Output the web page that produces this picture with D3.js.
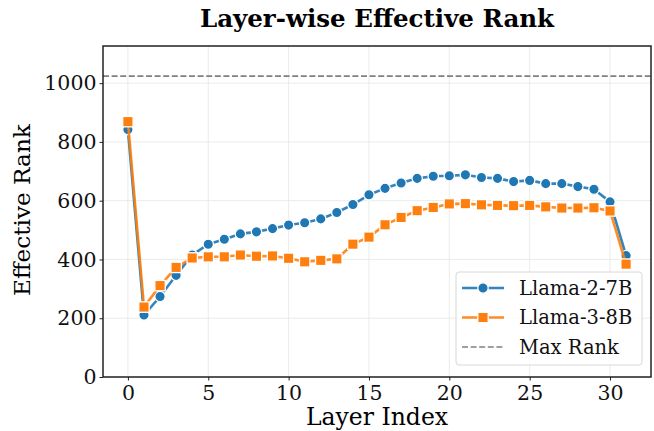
<!DOCTYPE html>
<html>
<head>
<meta charset="utf-8">
<script src="https://cdn.jsdelivr.net/npm/d3@7"></script>
<style>
  body { margin: 0; background: #fff; }
  svg { font-family: "DejaVu Serif", serif; }
</style>
</head>
<body>
<div id="chart"></div>
<script>
var layers = d3.range(32);
var llama2 = [842, 211, 274, 346, 415, 452, 469, 487, 494, 505, 517, 525, 538, 560, 587, 620,
              642, 660, 676, 683, 685, 688, 679, 676, 665, 669, 658, 658, 648, 639, 596, 413];
var llama3 = [869, 238, 311, 373, 405, 409, 409, 415, 411, 412, 404, 392, 397, 402, 452, 476,
              518, 543, 566, 577, 589, 590, 586, 584, 583, 584, 579, 575, 575, 576, 565, 384];
var maxRank = 1024;
var xTicks = [0, 5, 10, 15, 20, 25, 30];
var yTicks = [0, 200, 400, 600, 800, 1000];
var seriesNames = ["Llama-2-7B", "Llama-3-8B"];

var w = 654, h = 431;
var margin = {left: 103, right: 3, top: 46, bottom: 54};

var svg = d3.select("#chart").append("svg")
  .attr("width", w).attr("height", h);

var x = d3.scaleLinear().domain([-1.55, 32.55]).range([margin.left, w - margin.right]);
var y = d3.scaleLinear().domain([0, 1126.4]).range([h - margin.bottom, margin.top]);

// grid
svg.append("g").selectAll("line").data(xTicks).enter().append("line")
  .attr("x1", d => x(d)).attr("x2", d => x(d))
  .attr("y1", y.range()[0]).attr("y2", y.range()[1])
  .style("stroke", "#e6e6e6").style("stroke-width", 0.8);
svg.append("g").selectAll("line").data(yTicks).enter().append("line")
  .attr("y1", d => y(d)).attr("y2", d => y(d))
  .attr("x1", x.range()[0]).attr("x2", x.range()[1])
  .style("stroke", "#e6e6e6").style("stroke-width", 0.8);

// max rank line
svg.append("line")
  .attr("x1", x.range()[0]).attr("x2", x.range()[1])
  .attr("y1", y(maxRank)).attr("y2", y(maxRank))
  .style("stroke", "#808080").style("stroke-width", 1.6)
  .style("stroke-dasharray", "6,2.6");

var line = d3.line().x((d, i) => x(layers[i])).y(d => y(d));

function drawSeries(vals, color, shape) {
  svg.append("path").datum(vals)
    .attr("d", line)
    .style("fill", "none").style("stroke", color)
    .style("stroke-width", 2.6).style("opacity", 0.9);
  var g = svg.append("g");
  if (shape == "circle") {
    g.selectAll("circle").data(vals).enter().append("circle")
      .attr("cx", (d, i) => x(layers[i])).attr("cy", d => y(d)).attr("r", 5.2)
      .style("fill", color).style("stroke", "#fff").style("stroke-width", 1.3);
  } else {
    g.selectAll("rect").data(vals).enter().append("rect")
      .attr("x", (d, i) => x(layers[i]) - 5.2).attr("y", d => y(d) - 5.2)
      .attr("width", 10.4).attr("height", 10.4)
      .style("fill", color).style("stroke", "#fff").style("stroke-width", 1.3);
  }
}
drawSeries(llama2, "#1f77b4", "circle");
drawSeries(llama3, "#ff7f0e", "square");

// frame
svg.append("rect")
  .attr("x", x.range()[0]).attr("y", y.range()[1])
  .attr("width", x.range()[1] - x.range()[0]).attr("height", y.range()[0] - y.range()[1])
  .style("fill", "none").style("stroke", "#222").style("stroke-width", 1.5);

// axes
var xAxis = svg.append("g").attr("transform", "translate(0," + y.range()[0] + ")")
  .call(d3.axisBottom(x).tickValues(xTicks).tickSize(3.5).tickPadding(5));
var yAxis = svg.append("g").attr("transform", "translate(" + x.range()[0] + ",0)")
  .call(d3.axisLeft(y).tickValues(yTicks).tickFormat(d3.format("d")).tickSize(3.5).tickPadding(3));
[xAxis, yAxis].forEach(function(a) {
  a.select(".domain").remove();
  a.selectAll("text").style("font-family", "DejaVu Serif, serif").style("font-size", "20.5px").style("fill", "#111");
  a.selectAll("line").style("stroke", "#222");
});

// labels
svg.append("text").attr("x", (x.range()[0] + x.range()[1]) / 2).attr("y", 27)
  .attr("text-anchor", "middle").style("font-size", "24.5px").style("font-weight", "bold")
  .text("Layer-wise Effective Rank");
svg.append("text").attr("x", (x.range()[0] + x.range()[1]) / 2).attr("y", 425)
  .attr("text-anchor", "middle").style("font-size", "23.5px").text("Layer Index");
svg.append("text").attr("transform", "translate(30,210) rotate(-90)")
  .attr("text-anchor", "middle").style("font-size", "23.2px").text("Effective Rank");

// legend
var lg = svg.append("g");
lg.append("rect").attr("x", 456).attr("y", 272).attr("width", 186).attr("height", 93)
  .attr("rx", 3).style("fill", "#fff").style("fill-opacity", 0.8)
  .style("stroke", "#d8d8d8").style("stroke-width", 1);
var items = [
  {name: seriesNames[0], color: "#1f77b4", shape: "circle"},
  {name: seriesNames[1], color: "#ff7f0e", shape: "square"},
  {name: "Max Rank", color: "#808080", shape: "dash"}
];
items.forEach(function(d, i) {
  var cy = 288 + i * 29.5;
  if (d.shape == "dash") {
    lg.append("line").attr("x1", 462).attr("x2", 504).attr("y1", cy).attr("y2", cy)
      .style("stroke", d.color).style("stroke-width", 1.6).style("stroke-dasharray", "6,2.6");
  } else {
    lg.append("line").attr("x1", 462).attr("x2", 504).attr("y1", cy).attr("y2", cy)
      .style("stroke", d.color).style("stroke-width", 2.6).style("opacity", 0.9);
    if (d.shape == "circle") {
      lg.append("circle").attr("cx", 483).attr("cy", cy).attr("r", 5.2)
        .style("fill", d.color).style("stroke", "#fff").style("stroke-width", 1.3);
    } else {
      lg.append("rect").attr("x", 477.8).attr("y", cy - 5.2).attr("width", 10.4).attr("height", 10.4)
        .style("fill", d.color).style("stroke", "#fff").style("stroke-width", 1.3);
    }
  }
  lg.append("text").attr("x", 519).attr("y", cy).attr("dy", "0.35em")
    .style("font-size", "19.5px").style("fill", "#111").text(d.name);
});
</script>
</body>
</html>
